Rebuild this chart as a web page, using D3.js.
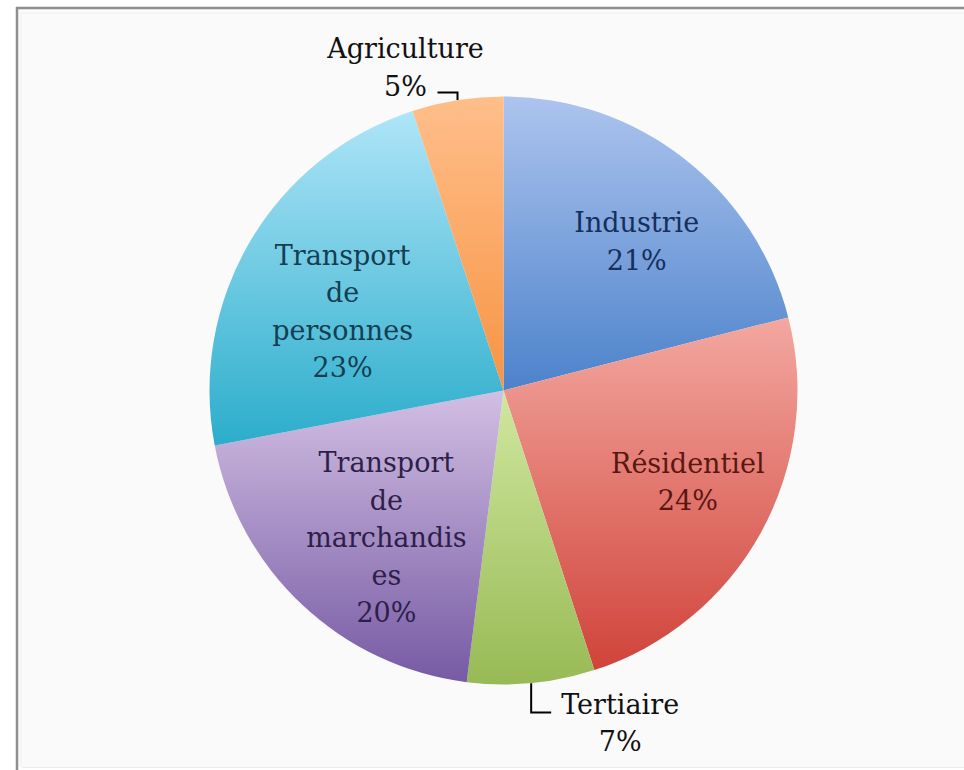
<!DOCTYPE html>
<html>
<head>
<meta charset="utf-8">
<script src="https://cdn.jsdelivr.net/npm/d3@7"></script>
<style>
  html, body { margin: 0; padding: 0; background: #ffffff; }
  svg { display: block; }
</style>
</head>
<body>
<svg id="chart" width="964" height="770"></svg>
<script>
// Répartition de la consommation d'énergie par secteur (%)
const categories = ["Industrie", "Résidentiel", "Tertiaire", "Transport de marchandises", "Transport de personnes", "Agriculture"];
const values = [21, 24, 7, 20, 23, 5];
// Label text as wrapped on the chart
const labelLines = [
  ["Industrie"],
  ["Résidentiel"],
  ["Tertiaire"],
  ["Transport", "de", "marchandis", "es"],
  ["Transport", "de", "personnes"],
  ["Agriculture"]
];
// Slice gradient colours (top, bottom)
const gradTop    = ["#adc4ee", "#f3a8a0", "#d0e7a0", "#d2bfe3", "#afe5f8", "#ffbe8a"];
const gradBottom = ["#4c82cb", "#d0433a", "#98ba55", "#765aa4", "#2badcb", "#f79444"];
const textColors = ["#162f5c", "#5a1712", "#111111", "#2e1f48", "#143e52", "#111111"];

const svg = d3.select("#chart");
const W = 964, H = 770;

// Chart frame
svg.append("rect").attr("x", 17).attr("y", 8).attr("width", W).attr("height", 759).attr("fill", "#fafafa");
svg.append("line").attr("x1", 16).attr("x2", W).attr("y1", 8).attr("y2", 8).attr("stroke", "#8f8f8f").attr("stroke-width", 2.5);
svg.append("line").attr("x1", 17).attr("x2", 17).attr("y1", 7).attr("y2", 770).attr("stroke", "#8f8f8f").attr("stroke-width", 2.5);
svg.append("line").attr("x1", 20).attr("x2", W).attr("y1", 13).attr("y2", 13).attr("stroke", "#f0f0f0").attr("stroke-width", 1);
svg.append("line").attr("x1", 21).attr("x2", 21).attr("y1", 12).attr("y2", 767).attr("stroke", "#f0f0f0").attr("stroke-width", 1);
svg.append("line").attr("x1", 22).attr("x2", W).attr("y1", 767.5).attr("y2", 767.5).attr("stroke", "#ececec").attr("stroke-width", 1);

const cx = 503.5, cy = 390.5, R = 294;

const defs = svg.append("defs");
categories.forEach((c, i) => {
  const g = defs.append("linearGradient")
    .attr("id", "grad" + i)
    .attr("x1", 0).attr("y1", 0).attr("x2", 0).attr("y2", 1);
  g.append("stop").attr("offset", "0%").attr("stop-color", gradTop[i]);
  g.append("stop").attr("offset", "100%").attr("stop-color", gradBottom[i]);
});

const data = categories.map((c, i) => ({ name: c, value: values[i], lines: labelLines[i], idx: i }));

const pie = d3.pie().value(d => d.value).sort(null);
const arcs = pie(data);
const arc = d3.arc().innerRadius(0).outerRadius(R);

const g = svg.append("g").attr("transform", `translate(${cx},${cy})`);

g.selectAll("path.slice")
  .data(arcs)
  .join("path")
  .attr("class", "slice")
  .attr("d", arc)
  .attr("fill", d => `url(#grad${d.data.idx})`);

const fontFamily = "'DejaVu Serif', serif";
const fontSize = 27;
const lineH = 37.5;

// Inside labels: placed on a radius/angle relative to each slice's middle
const inside = {
  0: { r: 0.68, da: 4 },
  1: { r: 0.70, da: -2.4 },
  3: { r: 0.64, da: -4.7 },
  4: { r: 0.61, da: -4.4 }
};

function midAngle(d) { return (d.startAngle + d.endAngle) / 2; }

arcs.forEach(d => {
  const i = d.data.idx;
  const pctTxt = d.data.value + "%";
  const lines = d.data.lines.concat([pctTxt]);
  if (inside[i]) {
    const a = midAngle(d) + inside[i].da * Math.PI / 180;
    const rr = inside[i].r * R;
    const x = rr * Math.sin(a), y = -rr * Math.cos(a);
    const t = g.append("text")
      .attr("font-family", fontFamily)
      .attr("font-size", fontSize)
      .attr("fill", textColors[i])
      .attr("text-anchor", "middle");
    const y0 = y - (lines.length - 1) * lineH / 2;
    lines.forEach((ln, k) => {
      t.append("tspan").attr("x", x).attr("y", y0 + k * lineH).attr("dy", "0.35em").text(ln);
    });
  }
});

// Outside labels with elbow leader lines
const outsideLayout = {
  5: { dir: -1, elbowY: -298, gap: 20 },   // Agriculture
  2: { dir: 1, elbowY: 322, gap: 20 }      // Tertiaire
};
arcs.forEach(d => {
  const i = d.data.idx;
  if (!outsideLayout[i]) return;
  const L = outsideLayout[i];
  const a = midAngle(d);
  const px = R * Math.sin(a), py = -R * Math.cos(a);
  const ex = px + L.dir * L.gap;
  g.append("path")
    .attr("d", `M${px},${py}V${L.elbowY}H${ex}`)
    .attr("fill", "none").attr("stroke", "#000").attr("stroke-width", 2);
  const lines = d.data.lines.concat([d.data.value + "%"]);
  const t = g.append("text")
    .attr("font-family", fontFamily)
    .attr("font-size", fontSize)
    .attr("fill", textColors[i])
    .attr("text-anchor", "middle");
  // right side: first line level with the leader; left side: last line level with it
  let x0, y0;
  if (L.dir > 0) {
    x0 = ex + 10 + 59;
    y0 = L.elbowY - 8;
  } else {
    x0 = ex - 32;
    y0 = L.elbowY - 6 - lineH * (lines.length - 1);
  }
  lines.forEach((ln, k) => {
    t.append("tspan").attr("x", x0).attr("y", y0 + k * lineH).attr("dy", "0.35em").text(ln);
  });
});
</script>
</body>
</html>
